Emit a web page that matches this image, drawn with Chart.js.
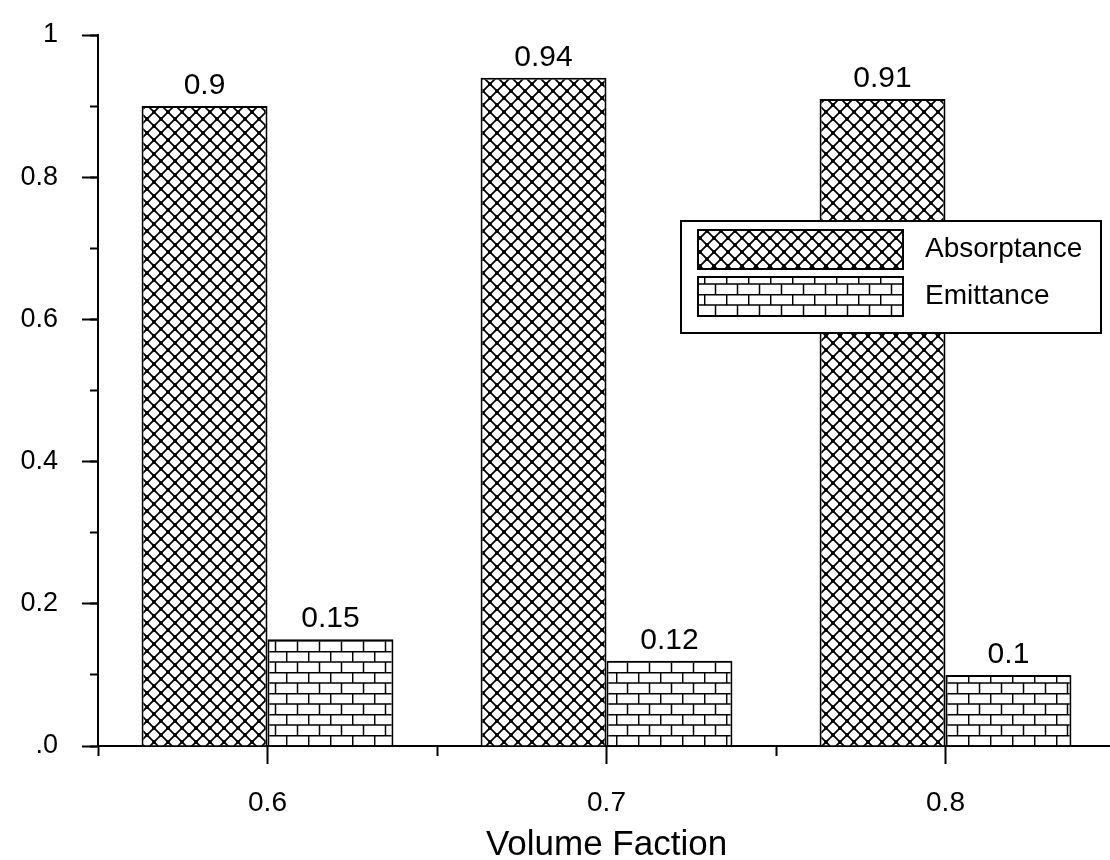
<!DOCTYPE html>
<html>
<head>
<meta charset="utf-8">
<script src="https://cdn.jsdelivr.net/npm/chart.js@4.4.1/dist/chart.umd.min.js"></script>
<style>
  html, body { margin: 0; padding: 0; background: #fff; overflow: hidden; }
  canvas { display: block; }
</style>
</head>
<body>
<canvas id="c" width="1130" height="860"></canvas>
<script>
// ---- data ----
const categories = ['0.6', '0.7', '0.8'];
const seriesNames = ['Absorptance', 'Emittance'];
const absorptance = [0.9, 0.94, 0.91];
const emittance = [0.15, 0.12, 0.1];
const yTickValues = [0, 0.2, 0.4, 0.6, 0.8, 1];
const yTickText = ['.0', '0.2', '0.4', '0.6', '0.8', '1'];
const xTitle = 'Volume Faction';

// ---- patterns ----
function crossPattern() {
  const s = 14;
  const c = document.createElement('canvas');
  c.width = s; c.height = s;
  const g = c.getContext('2d');
  g.fillStyle = '#fff'; g.fillRect(0, 0, s, s);
  g.strokeStyle = '#000'; g.lineWidth = 1.8;
  g.beginPath();
  g.moveTo(-2, -2); g.lineTo(s + 2, s + 2);
  g.moveTo(s + 2, -2); g.lineTo(-2, s + 2);
  g.stroke();
  g.fillStyle = '#000';
  [[0,0],[s,0],[0,s],[s,s],[s/2,s/2]].forEach(([x,y]) => {
    g.beginPath(); g.arc(x, y, 1.9, 0, Math.PI*2); g.fill();
  });
  return g.createPattern(c, 'repeat');
}
function brickPattern() {
  const w = 22, h = 21, r = 10.5;
  const c = document.createElement('canvas');
  c.width = w; c.height = h;
  const g = c.getContext('2d');
  g.fillStyle = '#fff'; g.fillRect(0, 0, w, h);
  g.strokeStyle = '#000'; g.lineWidth = 1.5;
  g.beginPath();
  g.moveTo(0, 0.7); g.lineTo(w, 0.7);
  g.moveTo(0, r + 0.5); g.lineTo(w, r + 0.5);
  g.moveTo(0.7, 0); g.lineTo(0.7, r + 0.5);
  g.moveTo(w/2 + 0.5, r + 0.5); g.lineTo(w/2 + 0.5, h);
  g.stroke();
  return g.createPattern(c, 'repeat');
}
const fills = [crossPattern(), brickPattern()];

const FONT = '"Liberation Sans", Arial, sans-serif';
Chart.defaults.font.family = FONT;
Chart.defaults.color = '#000';

// ---- value labels above bars ----
const valueLabels = {
  id: 'valueLabels',
  afterDatasetsDraw(chart) {
    const ctx = chart.ctx;
    ctx.save();
    ctx.font = '30px ' + FONT;
    ctx.fillStyle = '#000';
    ctx.textAlign = 'center';
    ctx.textBaseline = 'alphabetic';
    chart.data.datasets.forEach((ds, di) => {
      chart.getDatasetMeta(di).data.forEach((bar, i) => {
        ctx.fillText(String(ds.data[i]), bar.x, bar.y - 12);
      });
    });
    ctx.restore();
  }
};

// ---- boxed legend inside the plot ----
const boxLegend = {
  id: 'boxLegend',
  afterDraw(chart) {
    const ctx = chart.ctx, a = chart.chartArea;
    const bx = a.left + 583, by = a.top + 186, bw = 420, bh = 112;
    ctx.save();
    ctx.fillStyle = '#fff';
    ctx.fillRect(bx, by, bw, bh);
    ctx.strokeStyle = '#000'; ctx.lineWidth = 2;
    ctx.strokeRect(bx, by, bw, bh);
    ctx.font = '28px ' + FONT;
    ctx.textBaseline = 'middle';
    ctx.textAlign = 'left';
    chart.data.datasets.forEach((ds, i) => {
      const sx = bx + 17, sy = by + 9 + i * 47, sw = 205, sh = 39;
      ctx.fillStyle = ds.backgroundColor;
      ctx.fillRect(sx, sy, sw, sh);
      ctx.strokeStyle = '#000'; ctx.lineWidth = 2;
      ctx.strokeRect(sx, sy, sw, sh);
      ctx.fillStyle = '#000';
      ctx.fillText(ds.label, sx + sw + 22, sy + sh / 2);
    });
    ctx.restore();
  }
};

new Chart(document.getElementById('c'), {
  type: 'bar',
  data: {
    labels: categories,
    datasets: [
      { label: seriesNames[0], data: absorptance, backgroundColor: fills[0], borderColor: '#000', borderWidth: 2 },
      { label: seriesNames[1], data: emittance, backgroundColor: fills[1], borderColor: '#000', borderWidth: 2 }
    ]
  },
  options: {
    responsive: false,
    animation: false,
    devicePixelRatio: 1,
    layout: { padding: { top: 35, right: 15, bottom: 0, left: 0 } },
    datasets: { bar: { categoryPercentage: 0.743, barPercentage: 1.0 } },
    plugins: { legend: { display: false }, tooltip: { enabled: false } },
    scales: {
      x: {
        type: 'category',
        position: 'bottom',
        weight: 1,
        offset: true,
        grid: { display: true, drawOnChartArea: false, offset: false, tickLength: 18, tickWidth: 2, tickColor: '#000' },
        border: { display: true, color: '#000', width: 2 },
        ticks: { font: { size: 28 }, color: '#000', padding: 22, maxRotation: 0 },
        title: { display: true, text: xTitle, font: { size: 35, lineHeight: 0.86 }, color: '#000', padding: { top: 0, bottom: 0 } },
        afterFit(s) { s.height = 114; }
      },
      x2: {
        type: 'category',
        position: 'bottom',
        weight: 0,
        offset: true,
        grid: { display: true, drawOnChartArea: false, offset: true, tickLength: 10, tickWidth: 2, tickColor: '#000' },
        border: { display: false },
        ticks: { display: false },
        afterFit(s) { s.height = 0; }
      },
      y: {
        type: 'linear',
        position: 'left',
        weight: 1,
        min: 0, max: 1,
        grid: { display: true, drawOnChartArea: false, tickLength: 16, tickWidth: 2, tickColor: '#000' },
        border: { display: true, color: '#000', width: 2 },
        ticks: {
          stepSize: 0.2,
          font: { size: 27, lineHeight: 0.4 },
          color: '#000',
          padding: 24,
          callback(v) {
            const k = yTickValues.findIndex(t => Math.abs(t - v) < 1e-6);
            return k >= 0 ? yTickText[k] : '';
          }
        },
        afterFit(s) { s.width = 98; }
      },
      y2: {
        type: 'linear',
        position: 'left',
        weight: 0,
        min: 0, max: 1,
        grid: { display: true, drawOnChartArea: false, tickLength: 8, tickWidth: 2, tickColor: '#000' },
        border: { display: false },
        ticks: { display: false, stepSize: 0.1 },
        afterFit(s) { s.width = 0; }
      }
    }
  },
  plugins: [valueLabels, boxLegend]
});
</script>
</body>
</html>
